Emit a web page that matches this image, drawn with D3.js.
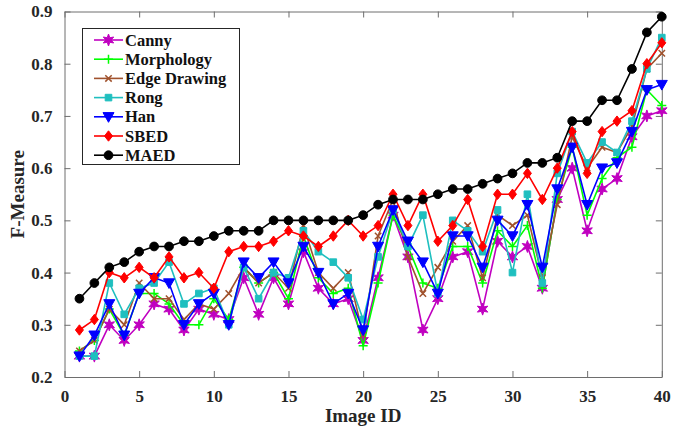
<!DOCTYPE html>
<html>
<head>
<meta charset="utf-8">
<script src="https://cdn.jsdelivr.net/npm/d3@7/dist/d3.min.js"></script>
<style>
  html, body { margin: 0; padding: 0; background: #fff; }
  svg { display: block; }
  text { font-family: "Liberation Serif", "Times New Roman", serif; font-weight: bold; }
</style>
</head>
<body>
<script>
const imageIds = d3.range(1, 41);
const xTicks = [0, 5, 10, 15, 20, 25, 30, 35, 40];
const yTicks = [0.2, 0.3, 0.4, 0.5, 0.6, 0.7, 0.8, 0.9];
const seriesNames = ["Canny", "Morphology", "Edge Drawing", "Rong", "Han", "SBED", "MAED"];

const canny = [0.24,0.24,0.30,0.27,0.30,0.34,0.33,0.29,0.33,0.32,0.31,0.39,0.32,0.39,0.34,0.44,0.37,0.34,0.35,0.27,0.39,0.51,0.43,0.29,0.35,0.43,0.44,0.33,0.46,0.43,0.45,0.37,0.54,0.60,0.48,0.56,0.58,0.66,0.70,0.71];
const morphology = [0.25,0.27,0.33,0.28,0.36,0.36,0.34,0.30,0.30,0.35,0.31,0.41,0.38,0.40,0.35,0.47,0.39,0.36,0.37,0.26,0.38,0.51,0.45,0.38,0.37,0.45,0.45,0.38,0.48,0.45,0.49,0.37,0.54,0.64,0.51,0.58,0.62,0.64,0.75,0.72];
const edgeDrawing = [0.25,0.27,0.33,0.30,0.38,0.35,0.35,0.31,0.34,0.33,0.36,0.41,0.38,0.40,0.37,0.49,0.40,0.37,0.40,0.28,0.47,0.54,0.43,0.36,0.41,0.46,0.49,0.39,0.51,0.49,0.51,0.39,0.53,0.66,0.60,0.64,0.63,0.68,0.79,0.82];
const rong = [0.24,0.24,0.38,0.32,0.37,0.38,0.42,0.34,0.36,0.37,0.30,0.41,0.35,0.40,0.39,0.48,0.44,0.42,0.39,0.31,0.43,0.52,0.45,0.51,0.36,0.50,0.48,0.44,0.52,0.40,0.55,0.38,0.59,0.67,0.61,0.65,0.63,0.69,0.79,0.85];
const han = [0.24,0.28,0.34,0.28,0.36,0.39,0.38,0.30,0.34,0.36,0.30,0.42,0.39,0.42,0.38,0.45,0.40,0.34,0.36,0.29,0.45,0.52,0.46,0.42,0.36,0.47,0.47,0.41,0.50,0.47,0.53,0.41,0.56,0.64,0.53,0.60,0.61,0.67,0.75,0.76];
const sbed = [0.29,0.31,0.40,0.39,0.41,0.39,0.43,0.39,0.40,0.37,0.44,0.45,0.45,0.46,0.48,0.47,0.45,0.47,0.50,0.47,0.49,0.55,0.49,0.55,0.46,0.49,0.54,0.45,0.55,0.55,0.59,0.54,0.60,0.67,0.59,0.67,0.69,0.71,0.80,0.84];
const maed = [0.35,0.38,0.41,0.42,0.44,0.45,0.45,0.46,0.46,0.47,0.48,0.48,0.48,0.50,0.50,0.50,0.50,0.50,0.50,0.51,0.53,0.54,0.54,0.54,0.55,0.56,0.56,0.57,0.58,0.59,0.61,0.61,0.62,0.69,0.69,0.73,0.73,0.79,0.86,0.89];

const seriesValues = [canny, morphology, edgeDrawing, rong, han, sbed, maed];
const colors = ["#C000C0", "#00FF00", "#A0522D", "#1FBFBF", "#0000FF", "#FF0000", "#000000"];
const markers = ["star", "plus", "cross", "square", "tridown", "diamond", "circle"];

const W = 691, H = 430;
const M = { left: 64.5, right: 661.8, top: 11.5, bottom: 377 };

const svg = d3.select("body").append("svg").attr("width", W).attr("height", H);

const x = d3.scaleLinear().domain([0, 40]).range([M.left, M.right]);
const y = d3.scaleLinear().domain([0.2, 0.9]).range([M.bottom, M.top]);

const axisColor = "#6e6e6e";

// Axes (ticks inward)
const gx = svg.append("g").attr("transform", `translate(0,${M.bottom})`)
  .call(d3.axisBottom(x).tickValues(xTicks).tickFormat(d3.format("d")).tickSizeInner(-6).tickSizeOuter(0).tickPadding(13));
const gxTop = svg.append("g").attr("transform", `translate(0,${M.top})`)
  .call(d3.axisTop(x).tickValues(xTicks).tickFormat("").tickSizeInner(-6).tickSizeOuter(0));
const gy = svg.append("g").attr("transform", `translate(${M.left},0)`)
  .call(d3.axisLeft(y).tickValues(yTicks).tickFormat(d3.format(".1f")).tickSizeInner(-6).tickSizeOuter(0).tickPadding(12));
const gyR = svg.append("g").attr("transform", `translate(${M.right},0)`)
  .call(d3.axisRight(y).tickValues(yTicks).tickFormat("").tickSizeInner(-6).tickSizeOuter(0));

[gx, gxTop, gy, gyR].forEach(g => {
  g.selectAll(".domain").attr("stroke", axisColor).attr("stroke-width", 1);
  g.selectAll(".tick line").attr("stroke", axisColor).attr("stroke-width", 1);
  g.selectAll(".tick text").attr("fill", "#262626").style("font-size", "17px").style("font-family", "'Liberation Serif', serif").style("font-weight", "bold");
});

// Axis labels
svg.append("text").attr("x", (M.left + M.right) / 2).attr("y", 422)
  .attr("text-anchor", "middle").style("font-size", "19px").attr("fill", "#262626").text("Image ID");
svg.append("text").attr("transform", `translate(24,${(M.top + M.bottom) / 2}) rotate(-90)`)
  .attr("text-anchor", "middle").style("font-size", "19px").attr("fill", "#262626").text("F-Measure");

// Marker path generator
function markerPath(type) {
  switch (type) {
    case "star": {
      const pts = [];
      for (let i = 0; i < 12; i++) {
        const r = i % 2 === 0 ? 6 : 2.6;
        const a = -Math.PI / 2 + i * Math.PI / 6;
        pts.push([r * Math.cos(a), r * Math.sin(a)]);
      }
      return "M" + pts.map(p => p.join(",")).join("L") + "Z";
    }
    case "plus": return "M-4.5,0L4.5,0M0,-4.5L0,4.5";
    case "cross": return "M-3.2,-3.2L3.2,3.2M-3.2,3.2L3.2,-3.2";
    case "square": return "M-3.3,-3.3L3.3,-3.3L3.3,3.3L-3.3,3.3Z";
    case "tridown": return "M-5.5,-4.2L5.5,-4.2L0,5.5Z";
    case "diamond": return "M0,-5.2L4,0L0,5.2L-4,0Z";
    case "circle": return d3.symbol(d3.symbolCircle, 60)();
  }
}

const line = d3.line().x((d, i) => x(imageIds[i])).y(d => y(d));

const plot = svg.append("g");
seriesValues.forEach((vals, s) => {
  const g = plot.append("g");
  g.append("path").datum(vals).attr("d", line).attr("fill", "none")
    .attr("stroke", colors[s]).attr("stroke-width", 1.6);
  const open = markers[s] === "plus" || markers[s] === "cross";
  g.selectAll("path.m").data(vals).enter().append("path").attr("class", "m")
    .attr("transform", (d, i) => `translate(${x(imageIds[i])},${y(d)})`)
    .attr("d", markerPath(markers[s]))
    .attr("fill", open ? "none" : colors[s])
    .attr("stroke", colors[s]).attr("stroke-width", open ? 1.5 : 1);
});

// Legend
const lg = svg.append("g");
lg.append("rect").attr("x", 82.5).attr("y", 28.5).attr("width", 157).attr("height", 136)
  .attr("fill", "#fff").attr("stroke", "#262626").attr("stroke-width", 1);
seriesNames.forEach((name, s) => {
  const cy = 40 + s * 19.2;
  lg.append("line").attr("x1", 94).attr("x2", 123).attr("y1", cy).attr("y2", cy)
    .attr("stroke", colors[s]).attr("stroke-width", 1.6);
  const open = markers[s] === "plus" || markers[s] === "cross";
  lg.append("path").attr("transform", `translate(108.5,${cy})`).attr("d", markerPath(markers[s]))
    .attr("fill", open ? "none" : colors[s]).attr("stroke", colors[s]).attr("stroke-width", open ? 1.5 : 1);
  lg.append("text").attr("x", 125).attr("y", cy + 5.5).style("font-size", "16.5px").attr("fill", "#111").text(name);
});
</script>
</body>
</html>
